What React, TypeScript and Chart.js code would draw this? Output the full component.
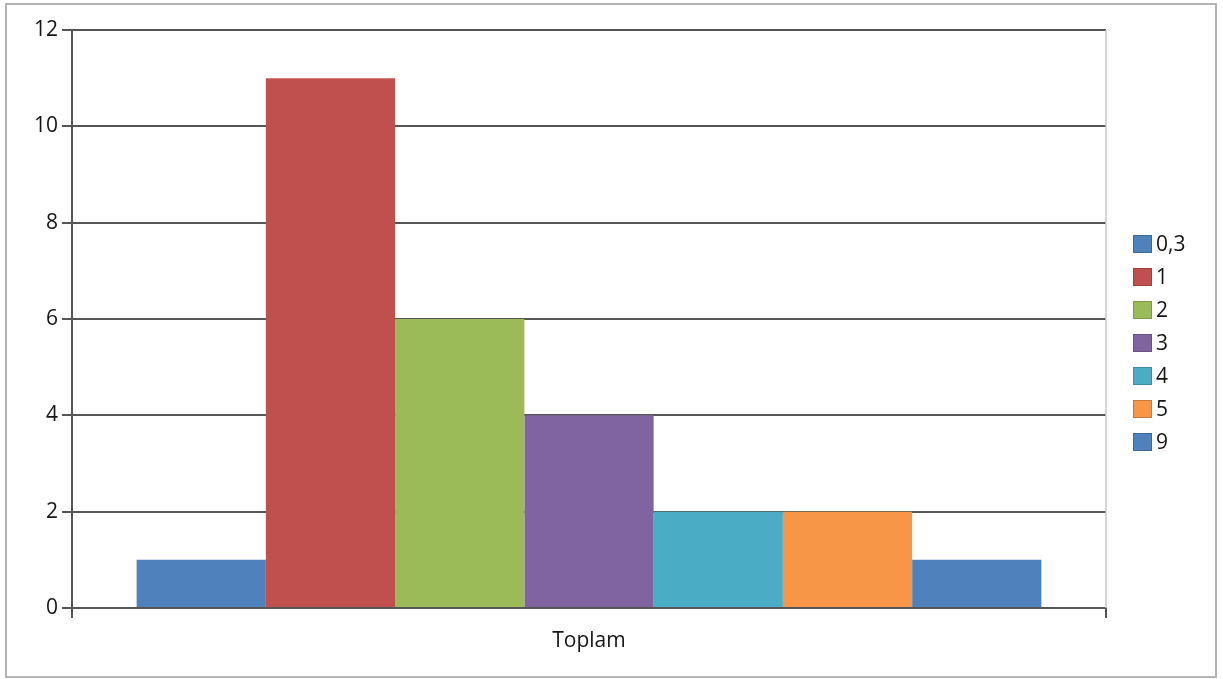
import React, { useEffect, useRef } from "react";
import { Chart, registerables } from "chart.js";

Chart.register(...registerables);

const categories = ["Toplam"];
const seriesNames = ["0,3", "1", "2", "3", "4", "5", "9"];
const seriesValues = [1, 11, 6, 4, 2, 2, 1];
const seriesColors = ["#4F81BD", "#C0504D", "#9BBB59", "#8064A2", "#4BACC6", "#F79646", "#4F81BD"];
const yTicks = [0, 2, 4, 6, 8, 10, 12];

const FONT = "'Open Sans', 'DejaVu Sans', sans-serif";
const TEXT_COLOR = "#151515";

// Right-hand legend plus the light plot-area border on the right
const sidePlugin = {
  id: "sideLegend",
  afterDraw(chart: any) {
    const ctx = chart.ctx;
    const area = chart.chartArea;
    ctx.save();
    ctx.strokeStyle = "#c8c8c8";
    ctx.lineWidth = 1.5;
    ctx.beginPath();
    ctx.moveTo(area.right, area.top);
    ctx.lineTo(area.right, area.bottom);
    ctx.stroke();

    const x0 = 1133;
    const y0 = 235;
    const step = 33;
    ctx.font = `21px ${FONT}`;
    ctx.textBaseline = "middle";
    ctx.textAlign = "left";
    chart.data.datasets.forEach((ds: any, i: number) => {
      const y = y0 + i * step;
      ctx.fillStyle = ds.backgroundColor;
      ctx.fillRect(x0, y, 19, 18);
      ctx.strokeStyle = "rgba(0,0,0,0.18)";
      ctx.lineWidth = 1;
      ctx.strokeRect(x0 + 0.5, y + 0.5, 18, 17);
      ctx.fillStyle = TEXT_COLOR;
      ctx.fillText(ds.label, x0 + 23, y + 10);
    });
    ctx.restore();
  },
};

export default function App() {
  const canvasRef = useRef<HTMLCanvasElement | null>(null);

  useEffect(() => {
    document.body.style.margin = "0";
    const canvas = canvasRef.current;
    if (!canvas) return;
    const chart = new Chart(canvas, {
      type: "bar",
      data: {
        labels: categories,
        datasets: seriesNames.map((name, i) => ({
          label: name,
          data: [seriesValues[i]],
          backgroundColor: seriesColors[i],
          borderWidth: 0,
          categoryPercentage: 0.875,
          barPercentage: 1,
        })),
      },
      options: {
        animation: false,
        responsive: false,
        layout: { padding: { top: 30, right: 117, bottom: 0, left: 0 } },
        plugins: {
          legend: { display: false },
          tooltip: { enabled: false },
        },
        scales: {
          x: {
            grid: {
              drawOnChartArea: false,
              drawTicks: true,
              tickLength: 10,
              color: "#555",
              lineWidth: 2,
            },
            border: { display: true, color: "#555", width: 2 },
            ticks: {
              color: TEXT_COLOR,
              font: { family: FONT, size: 21 },
              padding: 10,
            },
            afterFit(scale: any) {
              scale.height = 71;
            },
          },
          y: {
            min: 0,
            max: 12,
            afterBuildTicks(scale: any) {
              scale.ticks = yTicks.map((v) => ({ value: v }));
            },
            grid: {
              color: "#555",
              lineWidth: 2,
              tickLength: 10,
            },
            border: { display: true, color: "#555", width: 2 },
            ticks: {
              color: TEXT_COLOR,
              font: { family: FONT, size: 21 },
              padding: 4,
            },
            afterFit(scale: any) {
              scale.width = 72;
            },
          },
        },
      },
      plugins: [sidePlugin],
    });
    return () => chart.destroy();
  }, []);

  return (
    <div style={{ position: "relative", width: 1223, height: 679, background: "#fff" }}>
      <canvas ref={canvasRef} width={1223} height={679} style={{ display: "block" }} />
      <div
        style={{
          position: "absolute",
          left: 5,
          top: 3,
          width: 1208,
          height: 671,
          border: "2px solid #b4b4b4",
          pointerEvents: "none",
        }}
      />
    </div>
  );
}
